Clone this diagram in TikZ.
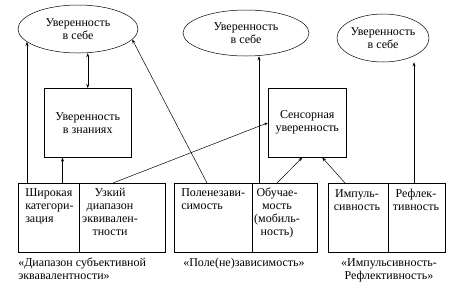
\documentclass[tikz,border=0pt]{standalone}
\usepackage{fontspec}
\setmainfont{Liberation Serif}
\usetikzlibrary{shapes.geometric, arrows.meta}

\tikzset{
  oval/.style={draw, ellipse, inner sep=0pt, align=center},
  blok/.style={draw, rectangle, inner sep=0pt, anchor=north west, minimum height=69pt},
  cell/.style={inner sep=0pt, anchor=north},
  arr/.style={-{Stealth[length=4pt,width=3pt]}},
  darr/.style={{Stealth[length=4pt,width=3pt]}-{Stealth[length=4pt,width=3pt]}},
}

\begin{document}
\begin{tikzpicture}[x=1pt, y=-1pt, line width=0.5pt, font=\fontsize{12}{13}\selectfont]
  \useasboundingbox (0,0) rectangle (450,287);

  % ellipses
  \node[oval, minimum width=120pt, minimum height=48pt] (e1) at (78,29) {Уверенность\\в себе};
  \node[oval, minimum width=126pt, minimum height=46pt] (e2) at (246,33) {Уверенность\\в себе};
  \node[oval, minimum width=92pt, minimum height=48pt] (e3) at (383,38) {Уверенность\\в себе};

  % middle boxes
  \node[blok, minimum width=87pt, align=center] (kn) at (44,88) {Уверенность\\в знаниях};
  \node[blok, minimum width=78pt, align=center] (bs) at (268,88) {Сенсорная\\уверенность};

  % bottom cells
  \node[blok, minimum width=61pt] (g1a) at (18,183) {};
  \node[blok, minimum width=86pt] (g1b) at (79,183) {};
  \node[blok, minimum width=78pt] (g2a) at (174,183) {};
  \node[blok, minimum width=65pt] (g2b) at (252,183) {};
  \node[blok, minimum width=60pt] (g3a) at (328,183) {};
  \node[blok, minimum width=57pt] (g3b) at (388,183) {};

  \node[cell, anchor=north west, align=left] (t1a) at (25,188) {Широкая\\категори-\\зация};
  \node[cell, align=center] (t1b) at (110,188) {Узкий\\диапазон\\эквивален-\\тности};
  \node[cell, anchor=north west, align=left] (t2a) at (181,188) {Поленезави-\\симость};
  \node[cell, align=center] (t2b) at (277,188) {Обучае-\\мость\\(мобиль-\\ность)};
  \node[cell, align=center] (t3a) at (357,189) {Импуль-\\сивность};
  \node[cell, align=center] (t3b) at (416,189) {Рефлек-\\тивность};

  % captions
  \node[cell, anchor=north west, align=left] (c1) at (18,258) {«Диапазон субъективной\\эквавалентности»};
  \node[cell, anchor=north west] (c2) at (183,258) {«Поле(не)зависимость»};
  \node[cell, align=center] (c3) at (389,258) {«Импульсивность-\\Рефлективность»};

  % connectors
  \coordinate (p1) at ([xshift=9pt]g1a.north west);
  \coordinate (p2) at ([xshift=-17pt]g1a.north east);
  \coordinate (p3) at ([xshift=7pt]g2b.north west);
  \coordinate (p4) at ([xshift=26pt]g3b.north west);
  \draw[arr] (p1) -- (p1 |- e1.194);
  \draw[darr] (kn.north) -- (kn.north |- e1.south);
  \draw[arr] (p2) -- (p2 |- kn.south);
  \draw[arr] ([xshift=34pt]g1b.north west) -- (bs.west);
  \draw[arr] ([xshift=33pt]g2a.north west) -- (e1.349);
  \draw[arr] (p3) -- (p3 |- e2.south);
  \draw[arr] ([xshift=25pt]g2b.north west) -- ([xshift=-5pt]bs.south);
  \draw[arr] ([xshift=17pt]g3a.north west) -- ([xshift=15pt]bs.south);
  \draw[arr] (p4) -- (p4 |- e3.south);
\end{tikzpicture}
\end{document}
